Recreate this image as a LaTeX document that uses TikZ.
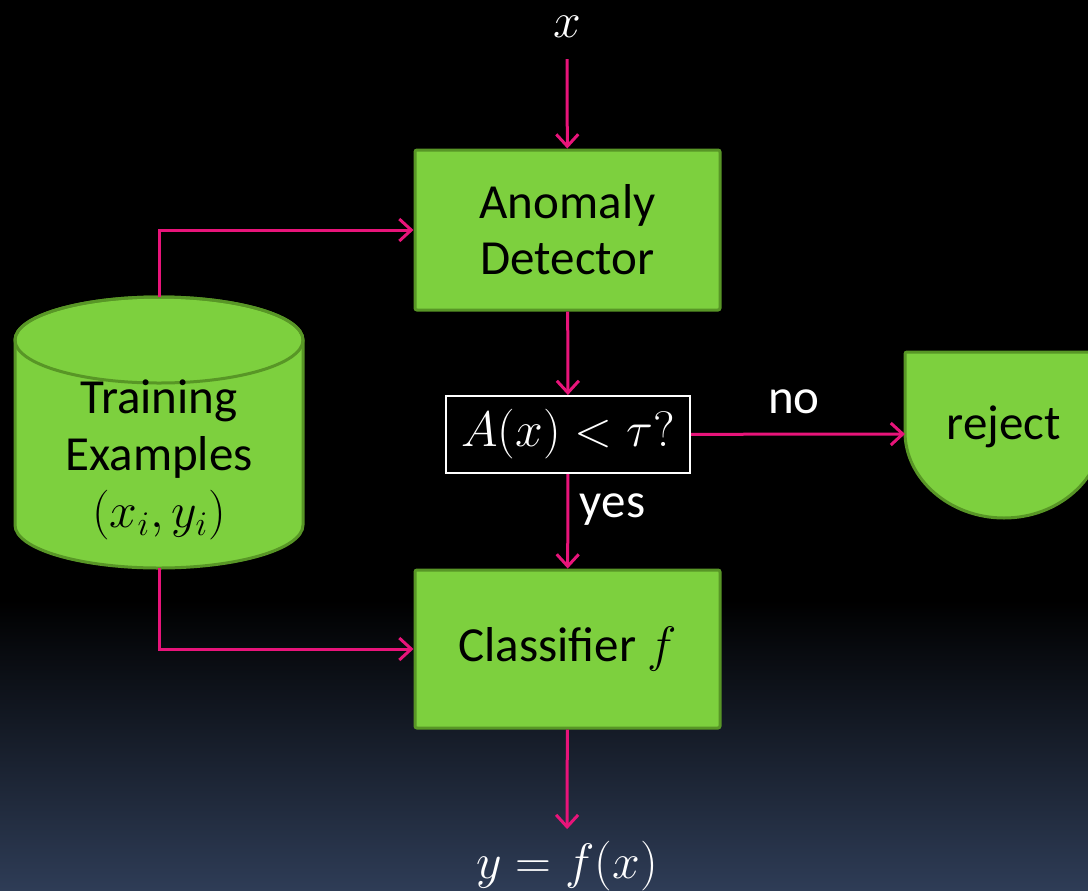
\documentclass[tikz,border=0pt]{standalone}
\usepackage{fontspec}
\setmainfont{Carlito}
\usetikzlibrary{arrows.meta, positioning}
\definecolor{boxgreen}{RGB}{125,208,62}
\definecolor{boxedge}{RGB}{88,150,38}
\definecolor{linkpink}{RGB}{232,20,122}
\definecolor{bgblue}{RGB}{46,60,86}

\tikzset{
    block/.style={draw=boxedge, line width=1.5pt, fill=boxgreen, rounded corners=1pt, minimum width=152.5pt, minimum height=80pt, align=center, font=\fontsize{24.5}{28}\selectfont},
    link/.style={draw=linkpink, line width=1.5pt, -{Straight Barb[length=6pt, width=11pt]}},
    lbl/.style={text=white, font=\fontsize{24.5}{28}\selectfont},
}

\begin{document}
\begin{tikzpicture}[x=0.5pt, y=-0.5pt]
    \useasboundingbox (0,0) rectangle (1088,890);
    \clip (0,0) rectangle (1088,890);
    \fill[black] (0,0) rectangle (1088,601);
    \shade[top color=black, bottom color=bgblue] (0,600) rectangle (1088,890);

    % training data store
    \draw[boxedge, line width=1.5pt, fill=boxgreen] (15,340) -- (15,525) arc (180:0:144 and 43) -- (303,340) arc (0:-180:144 and 43) -- cycle;
    \draw[boxedge, line width=1.5pt] (159,340) ellipse (144 and 43);
    \node[align=center, font=\fontsize{24.5}{28.5}\selectfont] (db) at (159,460) {Training\\Examples\\$(x_i,y_i)$};
    \coordinate (dbtop) at (159,297);
    \coordinate (dbbot) at (159,568);

    \node[block] (ad) at (567.5,230) {Anomaly\\Detector};
    \node[block, minimum height=79pt] (clf) at (567.5,649) {Classifier $f$};
    \node[lbl, draw=white, line width=1pt, fill=black, minimum width=122pt, minimum height=38.5pt, inner sep=0pt] (dec) at (568,434.5) {$A(x) < \tau?$};

    % reject
    \draw[boxedge, line width=1.5pt, fill=boxgreen, rounded corners=1pt] (1103,352) -- (905,352) -- (905,430) [sharp corners] arc (180:0:99 and 88) -- (1103,352);
    \node[font=\fontsize{24.5}{28}\selectfont] (reject) at (1004,427) {reject};
    \coordinate (rejin) at (905,434);

    \node[lbl, inner sep=1pt] (xin) at (567,27) {$x$};
    \node[lbl] (yout) at (567,866) {$y = f(x)$};

    \draw[link, shorten <=9.5pt] (xin) -- (ad);
    \draw[link] (ad) -- (dec);
    \draw[link] (dec) -- node[lbl, right, pos=0.38, xshift=2pt] {yes} (clf);
    \draw[link] (dec) -- node[lbl, above, yshift=6pt, xshift=-2pt] {no} (rejin);
    \draw[link] (dbtop) |- (ad);
    \draw[link] (dbbot) |- (clf);
    \draw[link, shorten >=2.5pt] (clf) -- (yout);
\end{tikzpicture}
\end{document}
